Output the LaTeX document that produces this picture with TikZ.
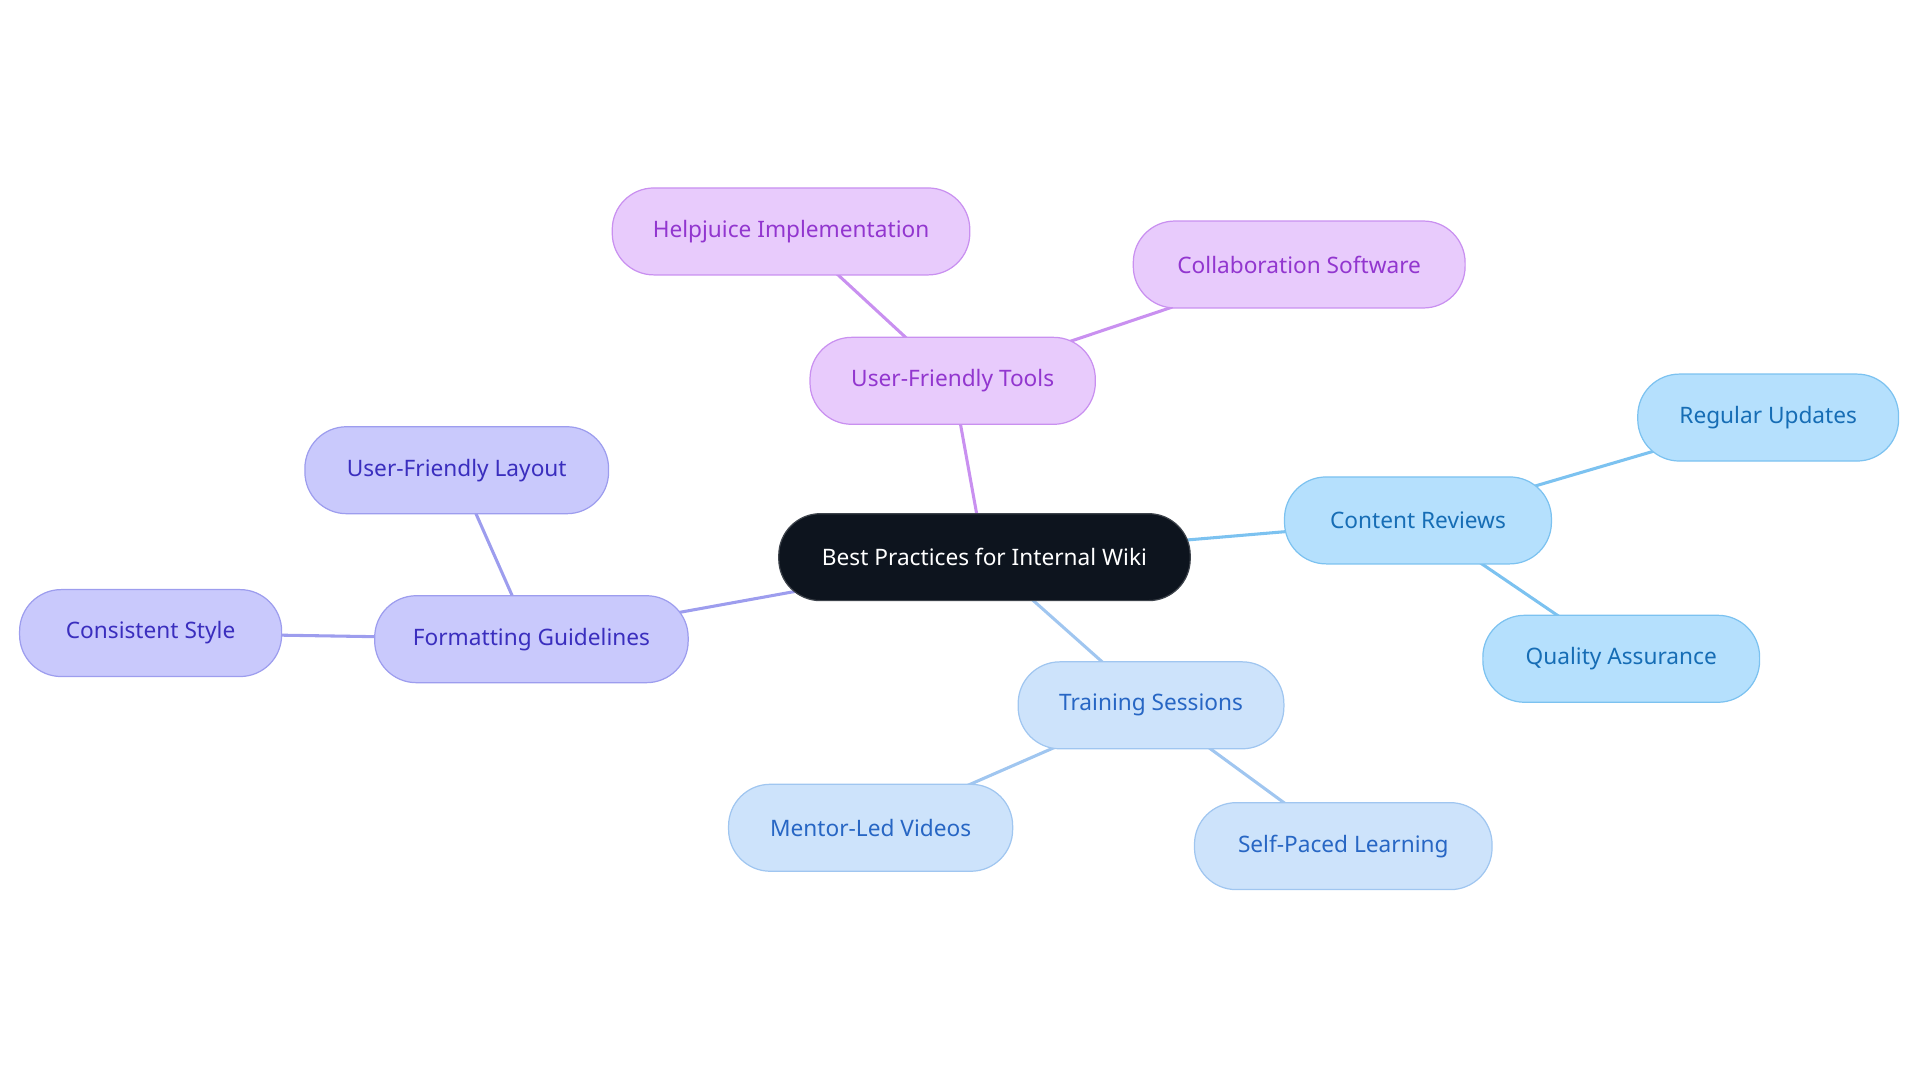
\documentclass[tikz,border=0pt]{standalone}
\usepackage{fontspec}
\setmainfont{Noto Sans}
\usetikzlibrary{backgrounds}
\definecolor{rootf}{HTML}{0D141E}
\definecolor{pf}{HTML}{E8CBFC}\definecolor{pb}{HTML}{C990F0}\definecolor{pt}{HTML}{9236CF}
\definecolor{bf}{HTML}{B5E0FD}\definecolor{bb}{HTML}{7CC2F0}\definecolor{bt}{HTML}{166DB5}
\definecolor{lf}{HTML}{CDE3FB}\definecolor{lb}{HTML}{A0C6F0}\definecolor{lt}{HTML}{2766C4}
\definecolor{vf}{HTML}{C9C9FC}\definecolor{vb}{HTML}{9D9DEE}\definecolor{vt}{HTML}{3A2EBE}
\tikzset{
 box/.style={draw, line width=1pt, rounded corners=34pt, minimum height=71pt, inner sep=0pt, font=\fontsize{18.5pt}{22pt}\selectfont},
 root/.style={box, fill=rootf, draw=rootf!80!white, text=white},
 pn/.style={box, fill=pf, draw=pb, text=pt},
 bn/.style={box, fill=bf, draw=bb, text=bt},
 ln/.style={box, fill=lf, draw=lb, text=lt},
 vn/.style={box, fill=vf, draw=vb, text=vt},
 ed/.style={line width=2.5pt}
}
\begin{document}
\begin{tikzpicture}[x=1pt,y=-1pt]
\useasboundingbox (0,0) rectangle (1568,884);
\node[root, minimum width=336pt] (r) at (804,455) {Best Practices for Internal Wiki};
\node[pn, minimum width=233pt] (uft) at (778,311) {User-Friendly Tools};
\node[pn, minimum width=292pt] (hj) at (646,189) {Helpjuice Implementation};
\node[pn, minimum width=271pt] (cs) at (1061,216) {Collaboration Software};
\node[bn, minimum width=218pt] (cr) at (1158,425) {Content Reviews};
\node[bn, minimum width=213pt] (ru) at (1444,341) {Regular Updates};
\node[bn, minimum width=226pt] (qa) at (1324,538) {Quality Assurance};
\node[ln, minimum width=217pt] (ts) at (940,576) {Training Sessions};
\node[ln, minimum width=232pt] (mv) at (711,676) {Mentor-Led Videos};
\node[ln, minimum width=243pt] (sp) at (1097,691) {Self-Paced Learning};
\node[vn, minimum width=256pt] (fg) at (434,522) {Formatting Guidelines};
\node[vn, minimum width=248pt] (ul) at (373,384) {User-Friendly Layout};
\node[vn, minimum width=214pt] (cst) at (123,517) {Consistent Style};
\begin{scope}[on background layer]
\draw[ed, pb] (r.center) -- (uft.center) (uft.center) -- (hj.center) (uft.center) -- (cs.center);
\draw[ed, bb] (r.center) -- (cr.center) (cr.center) -- (ru.center) (cr.center) -- (qa.center);
\draw[ed, lb] (r.center) -- (ts.center) (ts.center) -- (mv.center) (ts.center) -- (sp.center);
\draw[ed, vb] (r.center) -- (fg.center) (fg.center) -- (ul.center) (fg.center) -- (cst.center);
\end{scope}
\end{tikzpicture}
\end{document}
